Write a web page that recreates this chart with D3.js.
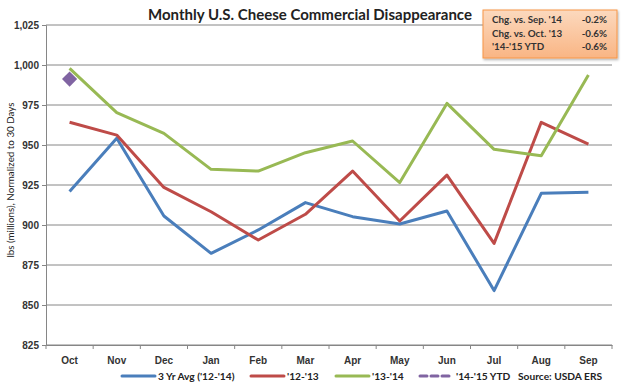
<!DOCTYPE html>
<html>
<head>
<meta charset="utf-8">
<script src="https://cdn.jsdelivr.net/npm/d3@7"></script>
<style>
  body { margin: 0; background: #fff; }
  svg { font-family: Lato, "Open Sans", sans-serif; }
</style>
</head>
<body>
<div id="chart"></div>
<script>
// Data
const months = ['Oct', 'Nov', 'Dec', 'Jan', 'Feb', 'Mar', 'Apr', 'May', 'Jun', 'Jul', 'Aug', 'Sep'];
const avg3yr = [921, 954.2, 905.6, 882.3, 896.9, 914, 905.2, 900.6, 908.75, 859, 919.8, 920.4];
const y1213 = [964.2, 956.2, 923.5, 908.3, 890.6, 906.7, 933.7, 902.5, 931.2, 888.5, 964.2, 950.6];
const y1314 = [997.9, 970.2, 957.3, 934.8, 933.7, 945.2, 952.5, 926.5, 976, 947.3, 943.3, 993.7];
const y1415 = [991.2];
const yTicks = [825, 850, 875, 900, 925, 950, 975, 1000, 1025];
const boxRows = [
  ["Chg. vs. Sep. '14", '-0.2%'],
  ["Chg. vs. Oct. '13", '-0.6%'],
  ["'14-'15 YTD", '-0.6%'],
];

const width = 628;
const height = 388;
const margin = { top: 25, right: 16, bottom: 43, left: 46 };

const svg = d3.select('#chart')
  .append('svg')
  .attr('width', width)
  .attr('height', height);

const x = d3.scaleBand()
  .domain(months)
  .range([margin.left, width - margin.right]);

const y = d3.scaleLinear()
  .domain([825, 1025])
  .range([height - margin.bottom, margin.top]);

// gridlines
svg.append('g')
  .selectAll('line')
  .data(yTicks)
  .join('line')
  .attr('x1', margin.left)
  .attr('x2', width - margin.right)
  .attr('y1', (d) => y(d))
  .attr('y2', (d) => y(d))
  .attr('stroke', '#868686')
  .attr('stroke-width', 1);

// y axis
const yAxis = svg.append('g')
  .attr('transform', `translate(${margin.left},0)`)
  .call(d3.axisLeft(y).tickValues(yTicks).tickSize(4).tickFormat(d3.format(',')));
yAxis.selectAll('text')
  .attr('font-size', 10)
  .attr('font-weight', 'bold')
  .attr('fill', '#333')
  .attr('x', -7);

// x axis - ticks sit between categories like Excel
const xAxis = svg.append('g')
  .attr('transform', `translate(0,${height - margin.bottom})`)
  .call(d3.axisBottom(x).tickSize(0).tickPadding(12));
xAxis.selectAll('text')
  .attr('font-size', 10)
  .attr('font-weight', 'bold')
  .attr('fill', '#333');
xAxis.selectAll('.tick-mark')
  .data(months.concat(['end']))
  .join('line')
  .attr('class', 'tick-mark')
  .attr('x1', (d, i) => margin.left + i * x.bandwidth())
  .attr('x2', (d, i) => margin.left + i * x.bandwidth())
  .attr('y1', 0)
  .attr('y2', 4);

svg.selectAll('.domain, .tick line, .tick-mark').attr('stroke', '#868686');

// y axis label
svg.append('text')
  .attr('transform', `translate(14,180) rotate(-90)`)
  .attr('text-anchor', 'middle')
  .attr('font-size', 9.8)
  .attr('fill', '#222')
  .text('lbs (millions), Normalized to 30 Days');

// title
svg.append('text')
  .attr('x', 310)
  .attr('y', 20)
  .attr('text-anchor', 'middle')
  .attr('font-size', 15)
  .attr('font-weight', 'bold')
  .attr('fill', '#222')
  .text('Monthly U.S. Cheese Commercial Disappearance');

const series = [
  { name: "3 Yr Avg ('12-'14)", values: avg3yr, color: '#4A7EBB' },
  { name: "'12-'13", values: y1213, color: '#BE4B48' },
  { name: "'13-'14", values: y1314, color: '#98B954' },
];

const line = d3.line()
  .x((d, i) => x(months[i]) + x.bandwidth() / 2)
  .y((d) => y(d));

series.forEach((s) => {
  svg.append('path')
    .datum(s.values)
    .attr('fill', 'none')
    .attr('stroke', s.color)
    .attr('stroke-width', 3)
    .attr('stroke-linejoin', 'round')
    .attr('d', line);
});

// '14-'15 YTD point (diamond)
svg.append('g')
  .selectAll('path')
  .data(y1415)
  .join('path')
  .attr('transform', (d, i) => `translate(${x(months[i]) + x.bandwidth() / 2},${y(d)}) rotate(45)`)
  .attr('d', d3.symbol(d3.symbolSquare, 115))
  .attr('fill', '#8064A2');

// legend
const legend = svg.append('g').attr('font-size', 10.2).attr('fill', '#222');
const legendItems = [
  { name: series[0].name, color: series[0].color, x: 122 },
  { name: series[1].name, color: series[1].color, x: 251 },
  { name: series[2].name, color: series[2].color, x: 336 },
  { name: "'14-'15 YTD", color: '#8064A2', x: 420, dashed: true },
];
legendItems.forEach((d) => {
  legend.append('line')
    .attr('x1', d.x)
    .attr('x2', d.x + 33)
    .attr('y1', 376)
    .attr('y2', 376)
    .attr('stroke', d.color)
    .attr('stroke-width', 3)
    .attr('stroke-linecap', 'round')
    .attr('stroke-dasharray', d.dashed ? '7,4' : null);
  legend.append('text')
    .attr('x', d.x + 36)
    .attr('y', 380)
    .attr('font-weight', 'bold')
    .text(d.name);
});
legend.append('text')
  .attr('x', 518)
  .attr('y', 380)
  .attr('font-weight', 'bold')
  .text('Source: USDA ERS');

// info box
const defs = svg.append('defs');
const grad = defs.append('linearGradient')
  .attr('id', 'boxGrad')
  .attr('x1', 0).attr('y1', 0).attr('x2', 0).attr('y2', 1);
grad.append('stop').attr('offset', '0%').attr('stop-color', '#FCD9BE');
grad.append('stop').attr('offset', '100%').attr('stop-color', '#F9B584');
const filter = defs.append('filter').attr('id', 'shadow');
filter.append('feDropShadow')
  .attr('dx', 1).attr('dy', 1.5).attr('stdDeviation', 1.2)
  .attr('flood-color', '#000').attr('flood-opacity', 0.3);

const box = svg.append('g');
box.append('rect')
  .attr('x', 483)
  .attr('y', 10)
  .attr('width', 134)
  .attr('height', 48)
  .attr('fill', 'url(#boxGrad)')
  .attr('stroke', '#F79646')
  .attr('stroke-width', 1)
  .attr('filter', 'url(#shadow)');
boxRows.forEach((r, i) => {
  box.append('text')
    .attr('x', 492)
    .attr('y', 23 + i * 13.5)
    .attr('font-size', 9.8)
    .attr('font-weight', 'bold')
    .attr('fill', '#333')
    .text(r[0]);
  box.append('text')
    .attr('x', 607)
    .attr('y', 23 + i * 13.5)
    .attr('text-anchor', 'end')
    .attr('font-size', 9.8)
    .attr('font-weight', 'bold')
    .attr('fill', '#333')
    .text(r[1]);
});
</script>
</body>
</html>
